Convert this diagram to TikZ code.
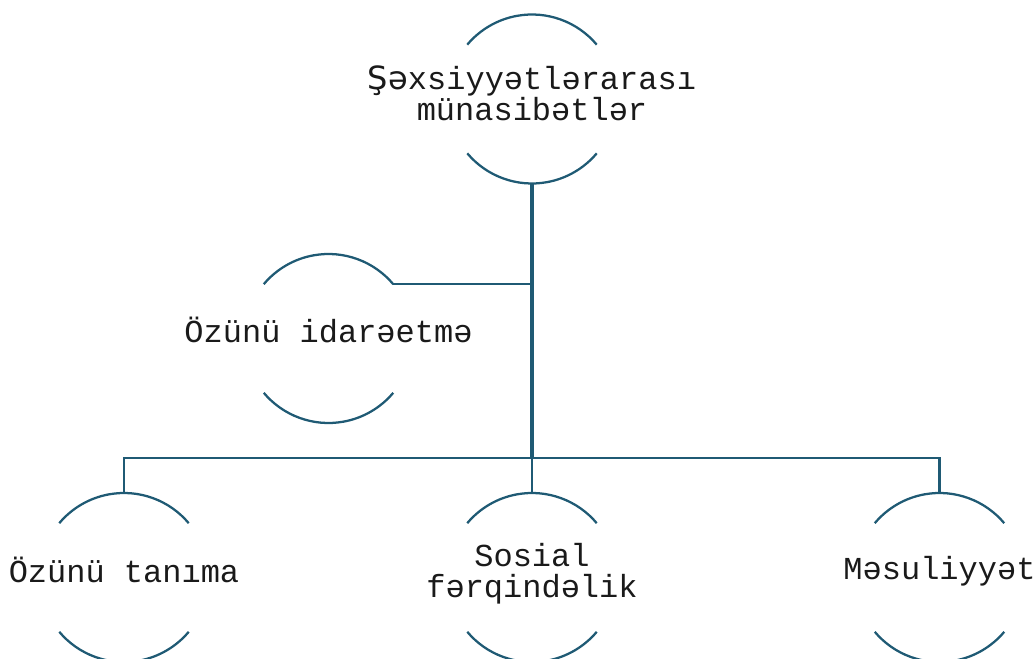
\documentclass[tikz,border=0pt]{standalone}
\usepackage{fontspec}
\setmainfont{Liberation Mono}
\newfontfamily\fbfont{DejaVu Sans}
\usetikzlibrary{calc}
\definecolor{ink}{HTML}{1F5A74}
\definecolor{txt}{HTML}{1A1A1A}
\tikzset{
  ring/.style={draw=ink, line width=1.7pt},
  trunk/.style={draw=ink, line width=2.6pt},
  link/.style={draw=ink, line width=1.6pt},
  lab/.style={text=txt, font=\fontsize{24}{23.25}\selectfont, align=center, inner sep=0pt},
}
\begin{document}
\begin{tikzpicture}[x=0.75pt,y=0.75pt]
  \useasboundingbox (0,0) rectangle (1036,658);
  \def\rad{84.5}
  % ring centres
  \coordinate (top) at (532,559);
  \coordinate (self) at (328.5,319.5);
  \coordinate (know) at (124,80.5);
  \coordinate (aware) at (532,80.5);
  \coordinate (resp) at (939.5,80.5);
  % topics
  \node[lab, yshift=4pt] (top-l) at (top) {{\fbfont Şə}xsiyyətlərarası\\münasibətlər};
  \node[lab, yshift=6.5pt] (self-l) at (self) {Özünü idarəetmə};
  \node[lab, yshift=6pt] (know-l) at (know) {Özünü tanıma};
  \node[lab, yshift=2.6pt] (aware-l) at (aware) {Sosial\\fərqindəlik};
  \node[lab, yshift=4.5pt] (resp-l) at (resp) {Məsuliyyət};
  % open rings
  \foreach \n in {top,self,know,aware,resp}{
    \draw[ring] ($(\n)+(40:\rad)$) arc[start angle=40,end angle=140,radius=\rad];
    \draw[ring] ($(\n)+(220:\rad)$) arc[start angle=220,end angle=320,radius=\rad];
    \coordinate (\n-t) at ($(\n)+(90:\rad)$);
    \coordinate (\n-b) at ($(\n)+(270:\rad)$);
  }
  \coordinate (self-e) at ($(self)+(40:\rad)$);
  \coordinate (bus) at (532,200);
  % connectors
  \draw[trunk] (top-b) -- (bus);
  \draw[link] (self-e) -- (self-e -| top);
  \draw[link] (know-t) |- (bus) -| (resp-t);
  \draw[link] (aware-t) -- (bus);
\end{tikzpicture}
\end{document}
